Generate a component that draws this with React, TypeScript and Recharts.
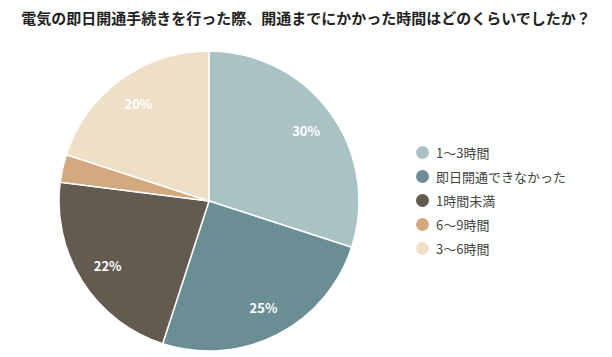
import { Legend, Pie, PieChart } from "recharts";

const categories = ["1〜3時間", "即日開通できなかった", "1時間未満", "6〜9時間", "3〜6時間"];
const shares = [30, 25, 22, 3, 20];
const colors = ["#a9c3c4", "#6a8e94", "#635a50", "#d3aa80", "#eedfc6"];

const title = "電気の即日開通手続きを行った際、開通までにかかった時間はどのくらいでしたか？";
const font = "'Noto Sans CJK JP', 'Noto Sans', sans-serif";

const data = categories.map((name, i) => ({ name, value: shares[i], fill: colors[i] }));

const RAD = Math.PI / 180;

function renderLabel(props: any) {
  const { cx, cy, midAngle, outerRadius, value } = props;
  if (value < 5) return null;
  const r = outerRadius * 0.8;
  const x = cx + r * Math.cos(-midAngle * RAD);
  const y = cy + r * Math.sin(-midAngle * RAD);
  return (
    <text
      x={x}
      y={y}
      fill="#ffffff"
      fontSize={13}
      fontWeight={700}
      fontFamily={font}
      textAnchor="middle"
      dominantBaseline="central"
    >
      {value}%
    </text>
  );
}

// legend keeps the data order (the built-in one sorts by name)
function LegendList() {
  return (
    <div style={{ fontFamily: font, fontSize: 13, color: "#444" }}>
      {categories.map((name, i) => (
        <div key={name} style={{ display: "flex", alignItems: "center", height: 24 }}>
          <span
            style={{
              display: "inline-block",
              width: 13,
              height: 13,
              borderRadius: "50%",
              background: colors[i],
              marginRight: 7,
            }}
          />
          <span>{name}</span>
        </div>
      ))}
    </div>
  );
}

export default function App() {
  return (
    <div style={{ position: "absolute", left: 0, top: 0, width: 612, height: 357, background: "#fff" }}>
      <div
        style={{
          position: "absolute",
          left: 0,
          top: 7,
          width: 612,
          textAlign: "center",
          fontFamily: font,
          fontSize: 15,
          fontWeight: 700,
          color: "#222",
          lineHeight: "22px",
        }}
      >
        {title}
      </div>
      <PieChart width={612} height={357} margin={{ top: 0, right: 0, bottom: 0, left: 0 }}>
        <Pie
          data={data}
          dataKey="value"
          nameKey="name"
          cx={209}
          cy={201}
          outerRadius={150}
          startAngle={90}
          endAngle={-270}
          stroke="#ffffff"
          strokeWidth={1.5}
          label={renderLabel}
          labelLine={false}
          isAnimationActive={false}
        />
        <Legend
          content={<LegendList />}
          layout="vertical"
          wrapperStyle={{ position: "absolute", left: 416, top: 140, width: 190 }}
        />
      </PieChart>
    </div>
  );
}
